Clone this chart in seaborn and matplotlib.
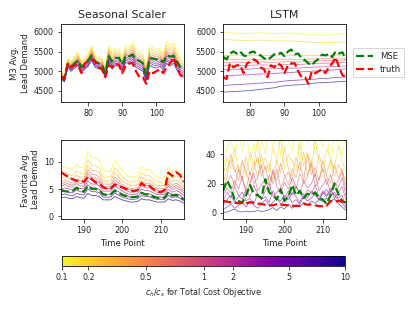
import numpy as np
import pandas as pd
import seaborn as sns
import matplotlib.pyplot as plt
from matplotlib import colors, cm

sns.set_style("ticks")
plt.rcParams['font.family'] = ['DejaVu Sans']
plt.rcParams['axes.edgecolor'] = 'black'

# cost ratios c_h/c_s, one line per ratio
ratios = [0.1, 0.2, 0.3, 0.5, 0.7, 1.0, 2.0, 3.0, 5.0, 10.0]
t_m3 = np.arange(72, 109)
t_fav = np.arange(184, 217)

# M3 - seasonal scaler
m3_ss = [
    [5000,4920,5330,5250,5380,5480,5250,5330,5450,5650,5400,5350,5330,5100,5650,5450,5600,5550,5380,5650,5620,5730,5550,5500,5450,5120,5650,5600,5550,5580,5450,5750,5650,5720,5500,5350,5300],
    [4970,4890,5300,5210,5340,5430,5210,5290,5400,5600,5360,5310,5290,5060,5590,5390,5530,5490,5320,5590,5550,5660,5480,5430,5380,5070,5580,5530,5480,5510,5390,5670,5570,5640,5430,5280,5230],
    [4940,4870,5270,5180,5300,5390,5170,5250,5360,5550,5320,5270,5250,5020,5530,5340,5470,5430,5270,5530,5500,5600,5420,5370,5320,5020,5510,5460,5420,5450,5330,5600,5500,5570,5370,5220,5170],
    [4920,4840,5240,5150,5260,5350,5140,5220,5320,5500,5280,5230,5220,4990,5480,5290,5420,5380,5220,5480,5440,5540,5370,5320,5270,4970,5450,5400,5360,5400,5280,5530,5440,5510,5310,5170,5120],
    [4900,4820,5220,5130,5230,5320,5120,5190,5290,5470,5250,5210,5190,4970,5440,5250,5380,5340,5180,5440,5400,5490,5330,5280,5230,4940,5400,5350,5320,5360,5240,5480,5390,5460,5270,5130,5080],
    [4880,4810,5200,5100,5210,5290,5090,5170,5260,5430,5230,5180,5170,4940,5410,5220,5340,5310,5150,5410,5360,5450,5290,5240,5190,4900,5360,5310,5280,5320,5210,5430,5350,5420,5230,5090,5040],
    [4860,4790,5170,5080,5180,5260,5070,5140,5230,5400,5200,5150,5140,4920,5360,5180,5290,5260,5110,5360,5320,5400,5240,5190,5140,4870,5310,5260,5230,5270,5160,5380,5300,5370,5180,5040,4990],
    [4840,4770,5150,5060,5150,5220,5040,5110,5200,5360,5170,5120,5110,4890,5320,5140,5250,5220,5070,5320,5280,5360,5200,5150,5100,4830,5260,5210,5180,5230,5120,5320,5240,5310,5130,5000,4950],
    [4820,4750,5130,5030,5120,5190,5010,5080,5170,5320,5140,5100,5080,4860,5280,5100,5200,5180,5030,5280,5230,5310,5150,5100,5050,4790,5210,5160,5140,5180,5080,5270,5190,5260,5090,4950,4900],
    [4800,4730,5100,5000,5080,5150,4980,5050,5130,5280,5100,5060,5050,4830,5230,5050,5150,5130,4980,5230,5180,5250,5100,5050,5000,4750,5150,5100,5080,5130,5030,5200,5130,5200,5030,4900,4850],
]
m3_mse_ss = [4870,4820,5180,5120,5200,5270,5110,5180,5280,5400,5250,5200,5160,4960,5380,5250,5330,5340,5170,5400,5380,5420,5300,5260,5200,4920,5330,5320,5300,5300,5230,5400,5370,5390,5250,5100,5050]
m3_truth = [4850,4800,5200,5100,5150,5150,4950,5200,5250,5300,5250,5100,5050,4850,5150,5100,5200,5150,4950,5150,5200,5200,5000,4850,4850,4680,5000,4950,5000,5050,4950,5100,5200,5350,5100,4900,4850]

# M3 - LSTM
m3_lstm = [
    [5980,5980,5975,5970,5965,5960,5960,5960,5965,5970,5975,5975,5970,5965,5960,5955,5955,5960,5965,5970,5965,5960,5950,5945,5940,5935,5930,5925,5920,5920,5925,5930,5935,5940,5945,5950,5950],
    [5800,5800,5795,5790,5790,5785,5780,5780,5780,5785,5790,5790,5785,5780,5775,5770,5765,5765,5770,5770,5765,5760,5755,5750,5745,5740,5735,5730,5730,5725,5725,5725,5730,5730,5735,5735,5740],
    [5400,5400,5405,5410,5410,5405,5400,5400,5405,5410,5410,5405,5400,5395,5395,5400,5405,5410,5410,5405,5400,5395,5395,5400,5400,5405,5405,5400,5400,5395,5395,5400,5405,5410,5410,5405,5400],
    [5290,5290,5295,5300,5300,5300,5295,5290,5290,5295,5300,5305,5300,5295,5290,5290,5295,5300,5305,5305,5300,5295,5295,5300,5305,5310,5310,5315,5320,5320,5325,5325,5330,5330,5335,5335,5330],
    [5220,5220,5225,5230,5230,5230,5225,5220,5225,5230,5235,5240,5235,5230,5225,5225,5230,5235,5240,5245,5240,5235,5235,5240,5245,5250,5255,5260,5260,5265,5265,5270,5275,5280,5280,5285,5280],
    [5140,5140,5145,5150,5150,5150,5145,5145,5150,5155,5160,5160,5160,5155,5150,5150,5155,5160,5165,5170,5170,5170,5170,5175,5180,5185,5190,5195,5200,5200,5205,5205,5210,5215,5215,5220,5220],
    [5040,5040,5045,5050,5050,5050,5050,5050,5055,5060,5065,5065,5065,5060,5060,5060,5065,5070,5075,5080,5080,5080,5080,5085,5090,5095,5100,5105,5110,5110,5115,5115,5120,5125,5125,5130,5130],
    [4880,4885,4890,4895,4900,4905,4905,4910,4915,4920,4925,4930,4930,4935,4940,4945,4950,4955,4960,4965,4970,4975,4980,4985,4990,4995,5000,5005,5010,5015,5020,5025,5030,5040,5045,5050,5060],
    [4640,4645,4650,4655,4660,4665,4670,4675,4680,4690,4695,4700,4705,4710,4715,4720,4730,4740,4750,4760,4765,4770,4775,4780,4785,4790,4795,4800,4810,4815,4820,4825,4830,4840,4845,4850,4860],
    [4470,4475,4480,4485,4490,4495,4500,4505,4510,4520,4530,4540,4550,4560,4570,4580,4600,4620,4630,4640,4645,4650,4655,4660,4670,4680,4690,4700,4705,4710,4715,4720,4725,4730,4735,4740,4745],
]
m3_mse_lstm = [5370,5300,5450,5500,5450,5500,5400,5380,5480,5500,5430,5400,5330,5290,5350,5430,5420,5470,5380,5500,5550,5430,5450,5330,5280,5200,5150,5250,5310,5420,5400,5440,5360,5500,5450,5480,5300]

# Favorita - seasonal scaler
fav_ss = [
    [8.6,9.2,8.8,8.5,9.5,9.0,8.8,12.0,10.8,10.7,10.2,8.3,8.2,8.3,10.2,9.3,8.3,7.6,7.2,7.2,7.4,9.2,8.5,8.6,7.8,7.2,7.1,7.2,9.0,8.0,8.6,8.1,7.1],
    [7.6,8.1,7.7,7.4,8.3,7.9,7.7,10.4,9.4,9.3,8.9,7.2,7.2,7.2,8.9,8.1,7.2,6.6,6.3,6.3,6.5,8.0,7.4,7.5,6.8,6.3,6.2,6.3,7.8,7.0,7.5,7.0,6.2],
    [6.8,7.3,6.9,6.7,7.5,7.1,6.9,9.3,8.4,8.4,8.0,6.5,6.4,6.5,8.0,7.3,6.5,6.0,5.6,5.6,5.8,7.2,6.6,6.7,6.1,5.6,5.6,5.6,7.0,6.3,6.7,6.3,5.5],
    [6.3,6.6,6.3,6.1,6.8,6.5,6.3,8.5,7.7,7.6,7.2,5.9,5.9,5.9,7.2,6.6,5.9,5.4,5.1,5.1,5.3,6.5,6.0,6.1,5.6,5.1,5.1,5.1,6.4,5.7,6.1,5.7,5.0],
    [5.8,6.2,5.9,5.7,6.4,6.0,5.9,7.9,7.1,7.0,6.7,5.5,5.4,5.5,6.7,6.1,5.5,5.1,4.8,4.8,4.9,6.0,5.6,5.6,5.2,4.8,4.7,4.8,5.9,5.3,5.6,5.3,4.6],
    [5.5,5.8,5.5,5.3,6.0,5.6,5.5,7.3,6.6,6.6,6.2,5.1,5.1,5.1,6.2,5.7,5.1,4.7,4.4,4.4,4.6,5.6,5.2,5.2,4.8,4.4,4.4,4.4,5.5,4.9,5.2,4.9,4.3],
    [5.0,5.2,5.0,4.8,5.4,5.1,5.0,6.5,5.9,5.9,5.6,4.6,4.6,4.6,5.6,5.1,4.6,4.2,4.0,4.0,4.1,5.0,4.7,4.7,4.3,4.0,4.0,4.0,4.9,4.4,4.7,4.4,3.8],
    [4.4,4.6,4.4,4.3,4.8,4.5,4.4,5.8,5.2,5.2,4.9,4.1,4.0,4.1,4.9,4.5,4.1,3.8,3.5,3.5,3.6,4.4,4.1,4.1,3.8,3.5,3.5,3.5,4.4,3.9,4.1,3.9,3.3],
    [3.9,4.1,3.9,3.7,4.2,4.0,3.9,5.0,4.5,4.5,4.3,3.5,3.5,3.5,4.3,3.9,3.5,3.3,3.1,3.1,3.2,3.8,3.6,3.6,3.3,3.1,3.1,3.1,3.8,3.4,3.6,3.3,2.9],
    [3.4,3.5,3.3,3.2,3.6,3.4,3.3,4.2,3.8,3.8,3.6,3.0,3.0,3.0,3.6,3.3,3.0,2.8,2.6,2.6,2.7,3.2,3.0,3.0,2.8,2.6,2.6,2.6,3.2,2.9,3.0,2.8,2.4],
]
fav_mse_ss = [4.8,4.6,4.5,4.6,5.2,4.8,4.5,5.6,5.0,5.0,4.8,4.0,3.9,4.0,4.7,4.3,3.9,3.7,3.5,3.5,3.6,4.3,4.0,4.0,3.6,3.4,3.3,3.4,4.4,3.8,3.9,3.6,3.0]
fav_truth = [8.1,7.6,7.2,6.8,6.5,6.6,6.3,7.2,6.8,6.2,6.0,5.3,5.0,5.1,5.8,5.5,5.3,5.0,4.8,4.6,4.8,6.1,5.5,5.6,5.0,4.5,4.4,4.8,8.0,7.4,8.1,7.6,6.3]

# Favorita - LSTM
fav_lstm = [
    [30,45,50,38,55,42,60,35,48,30,52,40,58,45,62,38,55,50,42,65,35,55,48,60,40,52,45,58,30,55,48,40,52],
    [25,38,30,45,28,36,24,42,33,50,30,38,27,45,35,52,30,40,36,28,48,32,42,30,50,35,28,44,38,30,46,36,28],
    [20,30,36,28,33,22,38,26,35,24,40,29,34,22,36,27,45,30,25,38,28,42,26,36,24,40,30,27,36,25,33,28,22],
    [18,24,40,30,22,35,28,20,30,38,25,32,20,28,22,34,26,19,30,24,35,22,40,26,31,22,36,25,20,33,24,30,19],
    [15,20,26,18,30,22,16,28,20,24,33,18,26,20,30,17,24,28,21,16,27,20,25,34,18,23,30,19,26,17,22,28,15],
    [12,17,14,22,16,25,13,20,27,15,19,23,14,30,18,13,21,16,24,18,13,22,17,20,27,15,19,23,14,21,17,24,12],
    [8,14,10,18,12,9,16,11,19,13,9,15,20,11,14,17,10,15,12,18,14,10,16,13,19,11,15,12,17,10,14,18,9],
    [5,9,12,7,11,14,8,10,6,13,9,11,7,15,10,8,12,9,14,11,7,13,10,15,12,9,13,16,11,14,10,12,4],
    [2,4,6,3,5,7,4,8,5,3,6,9,5,7,10,6,8,12,7,9,6,11,8,10,13,9,14,11,15,12,9,7,3],
    [0.5,0.3,1.5,2.5,0.8,0.5,1.0,0.6,0.8,1.5,0.7,1.2,2.0,3.5,1.5,4.0,2.5,6.0,3.0,5.5,4.0,7.0,5.5,8.0,6.5,9.0,7.5,10.0,8.0,9.5,6.5,4.0,1.5],
]
fav_mse_lstm = [15,22,17,9,8,7,12,19,13,12,10,23,14,12,9,16,8,11,19,12,15,10,13,12,14,10,9,6,12,20,13,8,7]

cb_ticks = [0.1, 0.2, 0.5, 1, 2, 5, 10]
cb_labels = ['0.1', '0.2', '0.5', '1', '2', '5', '10']
cb_pos = [0, 0.094, 0.296, 0.5, 0.602, 0.801, 1.0]


def fwd(v):
    return np.interp(np.log10(np.maximum(v, 1e-3)), np.log10(cb_ticks), cb_pos)


def inv(p):
    return 10 ** np.interp(p, cb_pos, np.log10(cb_ticks))


cmap = plt.get_cmap('plasma_r')
norm = colors.FuncNorm((fwd, inv), vmin=0.1, vmax=10)
pal = {r: cmap(norm(r)) for r in ratios}


def panel(ax, t, rows, mse, truth, alpha):
    n = len(t)
    df = pd.DataFrame({'t': np.tile(t, len(ratios)),
                       'ratio': np.repeat(ratios, n),
                       'y': np.concatenate([np.asarray(r, float) for r in rows])})
    sns.lineplot(data=df, x='t', y='y', hue='ratio', palette=pal, lw=0.8,
                 alpha=alpha, legend=False, ax=ax)
    sns.lineplot(x=t, y=mse, color='green', ls='--', lw=2.2, ax=ax, label='MSE')
    sns.lineplot(x=t, y=truth, color='red', ls='--', lw=2.2, ax=ax, label='truth')
    ax.set_xlim(t[0], t[-1])
    ax.set_xlabel('')
    ax.set_ylabel('')
    ax.tick_params(labelsize=8)


fig = plt.figure(figsize=(5.76, 4.32), dpi=72)
ax1 = fig.add_axes([0.147, 0.672, 0.296, 0.251])
ax2 = fig.add_axes([0.538, 0.672, 0.296, 0.251])
ax3 = fig.add_axes([0.147, 0.296, 0.296, 0.254])
ax4 = fig.add_axes([0.538, 0.296, 0.296, 0.254])

panel(ax1, t_m3, m3_ss, m3_mse_ss, m3_truth, 0.75)
panel(ax2, t_m3, m3_lstm, m3_mse_lstm, m3_truth, 0.65)
panel(ax3, t_fav, fav_ss, fav_mse_ss, fav_truth, 0.75)
panel(ax4, t_fav, fav_lstm, fav_mse_lstm, fav_truth, 0.6)

for ax in [ax1, ax2]:
    ax.set_ylim(4220, 6200)
    ax.set_yticks([4500, 5000, 5500, 6000])
    ax.set_xticks([80, 90, 100])
ax3.set_ylim(-0.5, 14)
ax3.set_yticks([0, 5, 10])
ax4.set_ylim(-4.3, 50)
ax4.set_yticks([0, 20, 40])
for ax in [ax3, ax4]:
    ax.set_xticks([190, 200, 210])
    ax.set_xlabel('Time Point', fontsize=8.5)

ax1.set_title('Seasonal Scaler', fontsize=11)
ax2.set_title('LSTM', fontsize=11)
ax1.set_ylabel('M3 Avg.\nLead Demand', fontsize=8.5)
ax3.set_ylabel('Favorita Avg.\nLead Demand', fontsize=8.5)

for ax in [ax1, ax3, ax4]:
    if ax.get_legend() is not None:
        ax.get_legend().remove()
ax2.legend(loc='center left', bbox_to_anchor=(1.02, 0.5), fontsize=8.5)

cax = fig.add_axes([0.149, 0.145, 0.684, 0.032])
cb = fig.colorbar(cm.ScalarMappable(norm=norm, cmap=cmap), cax=cax,
                  orientation='horizontal')
cb.set_ticks(cb_ticks)
cb.set_ticklabels(cb_labels)
cb.minorticks_off()
cb.ax.tick_params(labelsize=8)
cb.set_label(r'$c_h/c_s$ for Total Cost Objective', fontsize=8)

fig.savefig('out.png', dpi=72)
